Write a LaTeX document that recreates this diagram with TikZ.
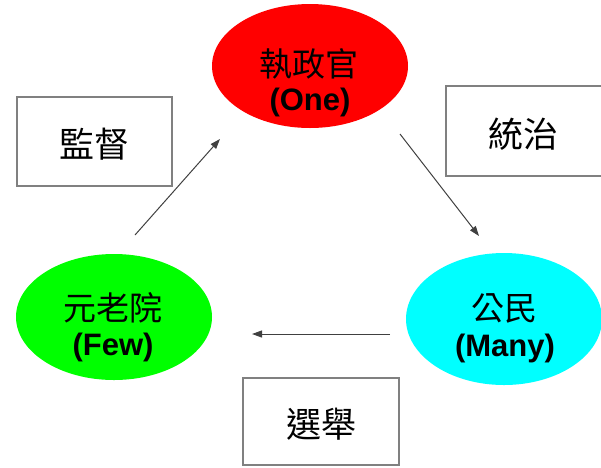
\documentclass[tikz,border=0pt]{standalone}
\usepackage{fontspec}
\setmainfont{Liberation Sans}
\newfontfamily\cjk{Noto Sans CJK TC}
\usetikzlibrary{shapes.geometric,arrows.meta}
\definecolor{pureRed}{RGB}{255,0,0}
\definecolor{pureGreen}{RGB}{0,255,0}
\definecolor{pureCyan}{RGB}{0,255,255}
\tikzset{
  blob/.style={ellipse, draw=none, inner sep=0pt, minimum width=196pt},
  cjklabel/.style={font=\cjk\fontsize{33}{35}\selectfont, inner sep=0pt},
  enlabel/.style={font=\bfseries\fontsize{31}{33}\selectfont, inner sep=0pt},
  tagbox/.style={draw=black!50, line width=1.3pt, fill=white, inner sep=0pt},
  tagtext/.style={font=\cjk\fontsize{35}{37}\selectfont, inner sep=0pt},
  flow/.style={draw=black!75, line width=1pt, -{Triangle[length=10pt,width=7pt]}}
}
\begin{document}
\begin{tikzpicture}[x=1pt,y=-1pt]
\useasboundingbox (0,0) rectangle (601,467);
\begin{scope}
\clip (0,0) rectangle (601,467);
% ellipses
\node[blob, fill=pureRed, minimum height=124pt] (one) at (310,66) {};
\node[blob, fill=pureGreen, minimum height=126pt] (few) at (114,317) {};
\node[blob, fill=pureCyan, minimum height=132pt] (many) at (504,319) {};
% ellipse texts
\node[cjklabel] (oneA) at (309,64) {執政官};
\node[enlabel] (oneB) at (310,102) {(One)};
\node[cjklabel] (fewA) at (113,308) {元老院};
\node[enlabel] (fewB) at (113,347) {(Few)};
\node[cjklabel] (manyA) at (504,308) {公民};
\node[enlabel] (manyB) at (505,348) {(Many)};
% boxes
\node[tagbox, minimum width=155pt, minimum height=89pt] (watch) at (94.5,141.5) {};
\node[tagtext] (watchT) at (94.5,144) {監督};
\node[tagbox, minimum width=162pt, minimum height=90pt] (rule) at (527,131) {};
\node[tagtext] (ruleT) at (523.5,134) {統治};
\node[tagbox, minimum width=156pt, minimum height=87pt] (vote) at (321,421.5) {};
\node[tagtext] (voteT) at (321.5,424) {選舉};
% arrows
\coordinate (a1s) at (135,235);
\coordinate (a1e) at (220,139);
\coordinate (a2s) at (400,134);
\coordinate (a2e) at (479,236);
\coordinate (a3s) at (390,334);
\coordinate (a3e) at (252,334);
\draw[flow] (a1s) -- (a1e);
\draw[flow] (a2s) -- (a2e);
\draw[flow] (a3s) -- (a3e);
\end{scope}
\end{tikzpicture}
\end{document}
